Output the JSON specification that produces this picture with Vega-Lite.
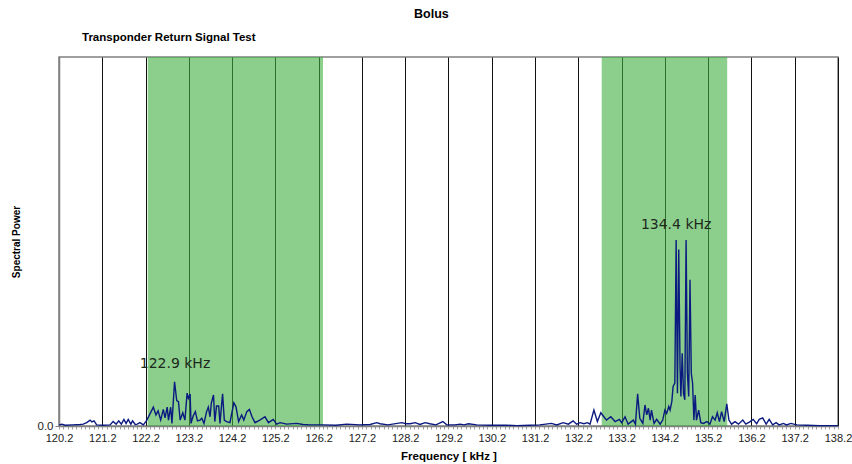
{
  "$schema": "https://vega.github.io/schema/vega-lite/v6.json",
  "background": "white",
  "padding": {"left": 10, "top": 8, "right": 0, "bottom": 0},
  "title": {"text": "Bolus", "anchor": "middle", "fontSize": 12.5, "fontWeight": "bold", "font": "Liberation Sans", "color": "#000", "offset": 10},
  "config": {
    "font": "Liberation Sans",
    "view": {"stroke": "#808080", "strokeWidth": 1.5},
    "concat": {"spacing": 0}
  },
  "datasets": {
    "spectrum": [
      {"f":120.20,"p":0.003},{"f":120.27,"p":0.005},{"f":120.34,"p":0.002},{"f":120.52,"p":0.003},{"f":120.69,"p":0.004},{"f":120.76,"p":0.005},{"f":120.84,"p":0.009},{"f":120.92,"p":0.016},{"f":120.96,"p":0.011},{"f":121.01,"p":0.014},{"f":121.07,"p":0.003},{"f":121.22,"p":0.002},{"f":121.38,"p":0.003},{"f":121.45,"p":0.012},{"f":121.52,"p":0.005},{"f":121.58,"p":0.014},{"f":121.64,"p":0.005},{"f":121.70,"p":0.018},{"f":121.75,"p":0.007},{"f":121.80,"p":0.018},{"f":121.86,"p":0.005},{"f":121.90,"p":0.014},{"f":121.96,"p":0.004},{"f":122.01,"p":0.005},{"f":122.07,"p":0.009},{"f":122.15,"p":0.003},{"f":122.23,"p":0.016},
      {"f":122.38,"p":0.051},{"f":122.44,"p":0.030},{"f":122.49,"p":0.041},{"f":122.55,"p":0.016},{"f":122.61,"p":0.045},{"f":122.65,"p":0.022},{"f":122.70,"p":0.051},{"f":122.73,"p":0.016},{"f":122.78,"p":0.051},{"f":122.81,"p":0.007},{"f":122.87,"p":0.120},{"f":122.92,"p":0.069},{"f":122.96,"p":0.066},{"f":123.00,"p":0.016},{"f":123.06,"p":0.036},{"f":123.11,"p":0.016},{"f":123.16,"p":0.089},{"f":123.19,"p":0.075},{"f":123.23,"p":0.087},{"f":123.25,"p":0.007},{"f":123.30,"p":0.027},{"f":123.35,"p":0.039},{"f":123.40,"p":0.014},{"f":123.46,"p":0.016},{"f":123.50,"p":0.021},{"f":123.55,"p":0.007},{"f":123.61,"p":0.039},{"f":123.65,"p":0.051},{"f":123.69,"p":0.025},{"f":123.72,"p":0.062},{"f":123.77,"p":0.084},{"f":123.80,"p":0.012},{"f":123.84,"p":0.054},{"f":123.89,"p":0.054},{"f":123.92,"p":0.007},{"f":123.98,"p":0.087},{"f":124.02,"p":0.016},{"f":124.07,"p":0.012},{"f":124.15,"p":0.009},{"f":124.24,"p":0.063},{"f":124.29,"p":0.052},{"f":124.35,"p":0.012},{"f":124.42,"p":0.030},{"f":124.47,"p":0.016},{"f":124.54,"p":0.039},{"f":124.60,"p":0.045},{"f":124.66,"p":0.025},{"f":124.73,"p":0.009},{"f":124.84,"p":0.016},{"f":124.96,"p":0.025},{"f":125.04,"p":0.009},{"f":125.15,"p":0.018},{"f":125.23,"p":0.005},{"f":125.31,"p":0.009},{"f":125.46,"p":0.005},{"f":125.69,"p":0.007},{"f":125.84,"p":0.004},{"f":126.00,"p":0.003},{"f":126.30,"p":0.003},{"f":126.60,"p":0.002},
      {"f":126.85,"p":0.005},{"f":127.15,"p":0.003},{"f":127.39,"p":0.004},{"f":127.54,"p":0.009},{"f":127.62,"p":0.006},{"f":127.80,"p":0.003},{"f":128.12,"p":0.009},{"f":128.22,"p":0.006},{"f":128.31,"p":0.006},{"f":128.43,"p":0.009},{"f":128.54,"p":0.004},{"f":128.66,"p":0.009},{"f":128.77,"p":0.006},{"f":128.91,"p":0.003},{"f":129.07,"p":0.012},{"f":129.16,"p":0.003},{"f":129.35,"p":0.003},{"f":129.47,"p":0.005},{"f":129.56,"p":0.003},{"f":129.66,"p":0.006},{"f":129.85,"p":0.003},{"f":130.16,"p":0.002},{"f":130.54,"p":0.002},{"f":130.78,"p":0.001},{"f":131.08,"p":0.002},{"f":131.31,"p":0.003},{"f":131.58,"p":0.007},{"f":131.70,"p":0.003},{"f":131.85,"p":0.009},{"f":131.97,"p":0.005},{"f":132.08,"p":0.014},{"f":132.16,"p":0.005},{"f":132.24,"p":0.009},{"f":132.33,"p":0.006},{"f":132.41,"p":0.009},{"f":132.47,"p":0.005},{"f":132.56,"p":0.043},{"f":132.64,"p":0.012},{"f":132.72,"p":0.036},{"f":132.79,"p":0.025},{"f":132.85,"p":0.016},{"f":132.95,"p":0.025},{"f":133.05,"p":0.012},{"f":133.15,"p":0.018},{"f":133.20,"p":0.009},{"f":133.28,"p":0.025},{"f":133.35,"p":0.005},{"f":133.47,"p":0.016},{"f":133.52,"p":0.005},{"f":133.57,"p":0.087},{"f":133.62,"p":0.021},{"f":133.69,"p":0.007},{"f":133.74,"p":0.057},{"f":133.78,"p":0.030},{"f":133.82,"p":0.048},{"f":133.86,"p":0.016},{"f":133.89,"p":0.043},{"f":133.95,"p":0.007},{"f":134.01,"p":0.018},{"f":134.09,"p":0.005},{"f":134.15,"p":0.016},{"f":134.20,"p":0.043},{"f":134.24,"p":0.034},{"f":134.29,"p":0.053},{"f":134.32,"p":0.043},{"f":134.36,"p":0.066},{"f":134.39,"p":0.107},{"f":134.43,"p":0.116},{"f":134.46,"p":0.504},{"f":134.49,"p":0.089},{"f":134.52,"p":0.478},{"f":134.55,"p":0.160},{"f":134.57,"p":0.080},{"f":134.60,"p":0.197},{"f":134.63,"p":0.089},{"f":134.66,"p":0.071},{"f":134.69,"p":0.504},{"f":134.72,"p":0.143},{"f":134.75,"p":0.080},{"f":134.78,"p":0.396},{"f":134.81,"p":0.143},{"f":134.84,"p":0.116},{"f":134.87,"p":0.016},{"f":134.90,"p":0.084},{"f":134.93,"p":0.016},{"f":134.98,"p":0.043},{"f":135.03,"p":0.009},{"f":135.09,"p":0.007},{"f":135.17,"p":0.012},{"f":135.24,"p":0.005},{"f":135.30,"p":0.025},{"f":135.36,"p":0.016},{"f":135.41,"p":0.036},{"f":135.46,"p":0.012},{"f":135.51,"p":0.039},{"f":135.57,"p":0.012},{"f":135.63,"p":0.060},{"f":135.68,"p":0.016},{"f":135.74,"p":0.005},{"f":135.82,"p":0.012},{"f":135.90,"p":0.005},{"f":136.00,"p":0.016},{"f":136.07,"p":0.005},{"f":136.17,"p":0.012},{"f":136.24,"p":0.018},{"f":136.32,"p":0.006},{"f":136.38,"p":0.018},{"f":136.46,"p":0.022},{"f":136.54,"p":0.005},{"f":136.61,"p":0.018},{"f":136.69,"p":0.003},{"f":136.77,"p":0.009},{"f":136.84,"p":0.003},{"f":136.94,"p":0.007},{"f":137.01,"p":0.003},{"f":137.11,"p":0.007},{"f":137.25,"p":0.003},{"f":137.48,"p":0.002},{"f":137.78,"p":0.001},{"f":138.20,"p":0.001}
    ],
    "bands": [
      {"start": 122.25, "end": 126.3},
      {"start": 132.74, "end": 135.64}
    ],
    "labels": [
      {"f": 122.88, "p": 0.168, "text": "122.9 kHz"},
      {"f": 134.46, "p": 0.546, "text": "134.4 kHz"}
    ]
  },
  "vconcat": [
    {
      "width": 779,
      "height": 369,
      "title": {"text": "Transponder Return Signal Test", "anchor": "start", "frame": "group", "dx": 23, "fontSize": 11.5, "fontWeight": "bold", "font": "Liberation Sans", "color": "#000", "offset": 14},
      "layer": [
        {
          "data": {"name": "bands"},
          "mark": {"type": "rect", "fill": "#3fae3f", "opacity": 0.6},
          "encoding": {
            "x": {"field": "start", "type": "quantitative"},
            "x2": {"field": "end"}
          }
        },
        {
          "data": {"name": "spectrum"},
          "mark": {"type": "line", "color": "#0a1a80", "strokeWidth": 1.4, "interpolate": "linear"},
          "encoding": {
            "x": {
              "field": "f", "type": "quantitative",
              "scale": {"domain": [120.2, 138.2], "nice": false, "zero": false},
              "axis": {
                "title": "Frequency [ kHz ]",
                "titleFontSize": 11.5, "titleFontWeight": "bold", "titleColor": "#000", "titlePadding": 7,
                "tickCount": 180,
                "labelExpr": "abs(datum.value*10 - round(datum.value)*10 - 2) < 0.5 ? format(datum.value, '.1f') : ''",
                "labelOverlap": false, "labelFontSize": 11, "labelColor": "#222", "labelPadding": 3, "labelFlush": false,
                "domainColor": "#808080", "domainWidth": 1.5,
                "tickColor": "#a0a0a0", "tickSize": 3,
                "grid": true,
                "gridColor": {"condition": {"test": "abs(datum.value*10 - round(datum.value)*10 - 2) < 0.5", "value": "#111"}, "value": "transparent"},
                "gridWidth": 1, "gridOpacity": 1
              }
            },
            "y": {
              "field": "p", "type": "quantitative",
              "scale": {"domain": [0, 1], "nice": false},
              "axis": {
                "title": "Spectral Power", "titleFontSize": 10, "titleFontWeight": "bold", "titleColor": "#000", "titlePadding": 16,
                "values": [0], "format": ".1f", "grid": false,
                "labelFontSize": 11.5, "labelColor": "#222",
                "domainColor": "#808080", "domainWidth": 1.5, "tickColor": "#808080", "tickSize": 4
              }
            }
          }
        },
        {
          "data": {"name": "labels"},
          "mark": {"type": "text", "fontSize": 14, "color": "#1c2a1c", "font": "DejaVu Sans"},
          "encoding": {
            "x": {"field": "f", "type": "quantitative"},
            "y": {"field": "p", "type": "quantitative"},
            "text": {"field": "text"}
          }
        }
      ]
    }
  ]
}
